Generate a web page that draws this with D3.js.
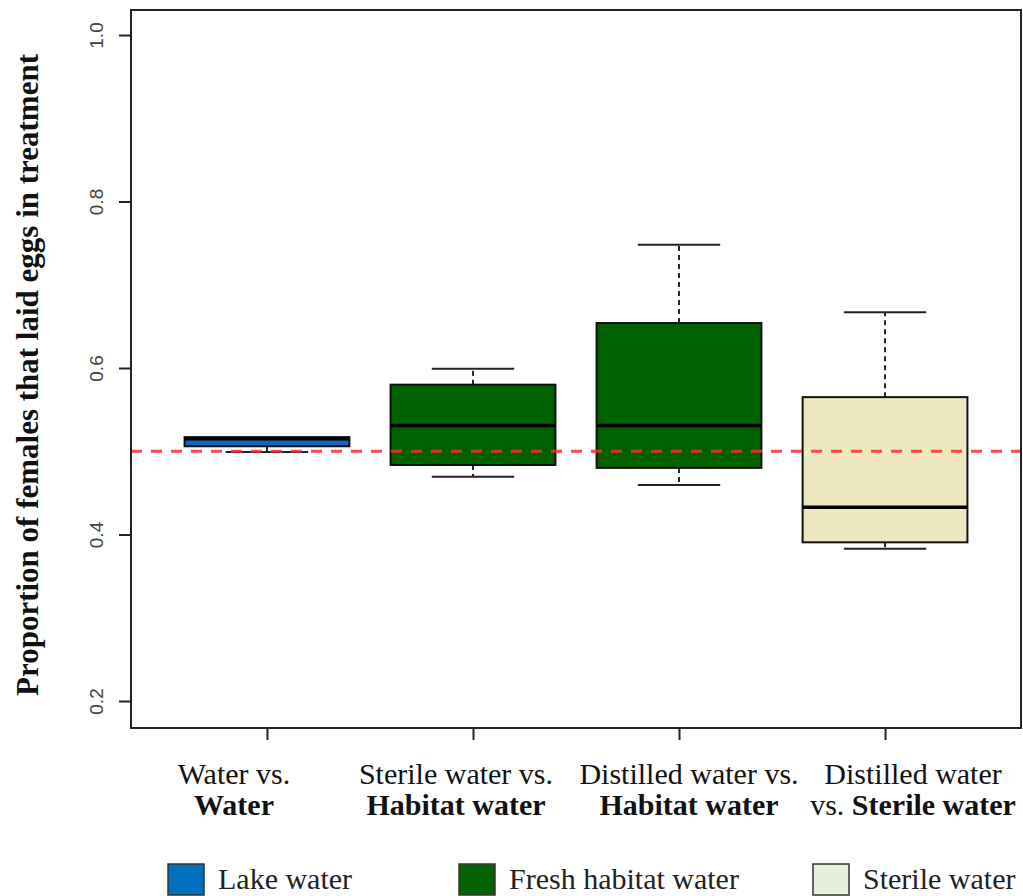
<!DOCTYPE html>
<html>
<head>
<meta charset="utf-8">
<script src="https://cdn.jsdelivr.net/npm/d3@7"></script>
<style>
  body { margin: 0; background: #fff; }
  svg { display: block; }
</style>
</head>
<body>
<svg id="chart" width="1023" height="896"></svg>
<script>

// data
var lines1   = ["Water vs.", "Sterile water vs.", "Distilled water vs.", "Distilled water"];
var lines2   = [["", "Water"], ["", "Habitat water"], ["", "Habitat water"], ["vs. ", "Sterile water"]];
var boxFill  = ["#1565c0", "#006100", "#006100", "#eee8c0"];
var wMin     = [0.499, 0.4695, 0.4595, 0.383];
var q1       = [0.506, 0.4835, 0.480, 0.3906];
var median   = [0.515, 0.531, 0.531, 0.4327];
var q3       = [0.517, 0.580, 0.654, 0.565];
var wMax     = [0.517, 0.599, 0.748, 0.667];
var yTicks   = [0.2, 0.4, 0.6, 0.8, 1.0];
var refLine  = 0.5;
var legNames = ["Lake water", "Fresh habitat water", "Sterile water"];
var legFill  = ["#0070c0", "#006400", "#e8eedc"];
var legX     = [168, 459, 813];
// the category labels sit in hand placed text boxes, a bit off the ticks
var labShift = [-33, -17, 10, 28];

var svg = d3.select("#chart");
var plot = {left: 131, right: 1021, top: 10, bottom: 728};

var x = d3.scaleLinear().domain([0.34, 4.66]).range([plot.left, plot.right]);
var y = d3.scaleLinear().domain([0.2, 1.0]).range([701, 35]);
var boxW = x(1.8) - x(1);

var g = svg.append("g");

lines1.forEach(function(d, i) {
    var cx = x(i + 1);
    // whiskers (dashed)
    g.append("line")
        .attr("x1", cx).attr("x2", cx)
        .attr("y1", y(q3[i])).attr("y2", y(wMax[i]))
        .attr("stroke", "#111").attr("stroke-width", 1.8)
        .attr("stroke-dasharray", "5,4");
    g.append("line")
        .attr("x1", cx).attr("x2", cx)
        .attr("y1", y(q1[i])).attr("y2", y(wMin[i]))
        .attr("stroke", "#111").attr("stroke-width", 1.8)
        .attr("stroke-dasharray", "5,4");
    // caps
    [wMin[i], wMax[i]].forEach(function(v) {
        if (v === q3[i]) return;
        g.append("line")
            .attr("x1", cx - boxW / 4).attr("x2", cx + boxW / 4)
            .attr("y1", y(v)).attr("y2", y(v))
            .attr("stroke", "#222").attr("stroke-width", 2);
    });
    // box
    g.append("rect")
        .attr("x", cx - boxW / 2).attr("width", boxW)
        .attr("y", y(q3[i])).attr("height", y(q1[i]) - y(q3[i]))
        .attr("fill", boxFill[i])
        .attr("stroke", "#111").attr("stroke-width", 2);
    // median
    g.append("line")
        .attr("x1", cx - boxW / 2).attr("x2", cx + boxW / 2)
        .attr("y1", y(median[i])).attr("y2", y(median[i]))
        .attr("stroke", "#000").attr("stroke-width", 3.5);
});

// red dashed line at 0.5
svg.append("line")
    .attr("x1", plot.left).attr("x2", plot.right)
    .attr("y1", y(refLine)).attr("y2", y(refLine))
    .attr("stroke", "#ff2a2a").attr("stroke-opacity", 0.85)
    .attr("stroke-width", 3)
    .attr("stroke-dasharray", "11,9");

// frame
svg.append("rect")
    .attr("x", plot.left).attr("y", plot.top)
    .attr("width", plot.right - plot.left).attr("height", plot.bottom - plot.top)
    .attr("fill", "none").attr("stroke", "#222").attr("stroke-width", 2);

// y axis
var yAx = svg.append("g")
    .attr("transform", "translate(" + plot.left + ",0)")
    .call(d3.axisLeft(y).tickValues(yTicks).tickFormat(d3.format(".1f")).tickSize(12).tickPadding(0));
yAx.select(".domain").remove();
yAx.selectAll(".tick line").attr("stroke", "#222").attr("stroke-width", 2);
yAx.selectAll(".tick text")
    .attr("transform", "rotate(-90)")
    .attr("x", 0).attr("y", -28)
    .attr("dy", 0)
    .attr("text-anchor", "middle")
    .attr("font-family", "Liberation Sans, Arial, sans-serif")
    .attr("font-size", 19)
    .attr("fill", "#444");

// x axis ticks
var xAx = svg.append("g")
    .attr("transform", "translate(0," + plot.bottom + ")")
    .call(d3.axisBottom(x).tickValues([1, 2, 3, 4]).tickFormat("").tickSize(12));
xAx.select(".domain").remove();
xAx.selectAll(".tick line").attr("stroke", "#222").attr("stroke-width", 2);

// x category labels
var serif = "Liberation Serif, Times New Roman, serif";
lines1.forEach(function(d, i) {
    var cx = x(i + 1) + labShift[i];
    svg.append("text")
        .attr("x", cx).attr("y", 784)
        .attr("text-anchor", "middle")
        .attr("font-family", serif).attr("font-size", 30)
        .attr("fill", "#111")
        .text(d);
    var t = svg.append("text")
        .attr("x", cx).attr("y", 815)
        .attr("text-anchor", "middle")
        .attr("font-family", serif).attr("font-size", 30)
        .attr("fill", "#111");
    if (lines2[i][0]) t.append("tspan").text(lines2[i][0]);
    t.append("tspan").attr("font-weight", "bold").text(lines2[i][1]);
});

// y title
svg.append("text")
    .attr("transform", "translate(38,375) rotate(-90)")
    .attr("text-anchor", "middle")
    .attr("font-family", serif).attr("font-size", 31)
    .attr("font-weight", "bold")
    .attr("fill", "#111")
    .text("Proportion of females that laid eggs in treatment");

// legend
legNames.forEach(function(d, i) {
    svg.append("rect")
        .attr("x", legX[i]).attr("y", 864)
        .attr("width", 36).attr("height", 31)
        .attr("fill", legFill[i])
        .attr("stroke", "#333").attr("stroke-width", 1.5);
    svg.append("text")
        .attr("x", legX[i] + 50).attr("y", 889)
        .attr("font-family", serif).attr("font-size", 30)
        .attr("fill", "#222")
        .text(d);
});

</script>
</body>
</html>
